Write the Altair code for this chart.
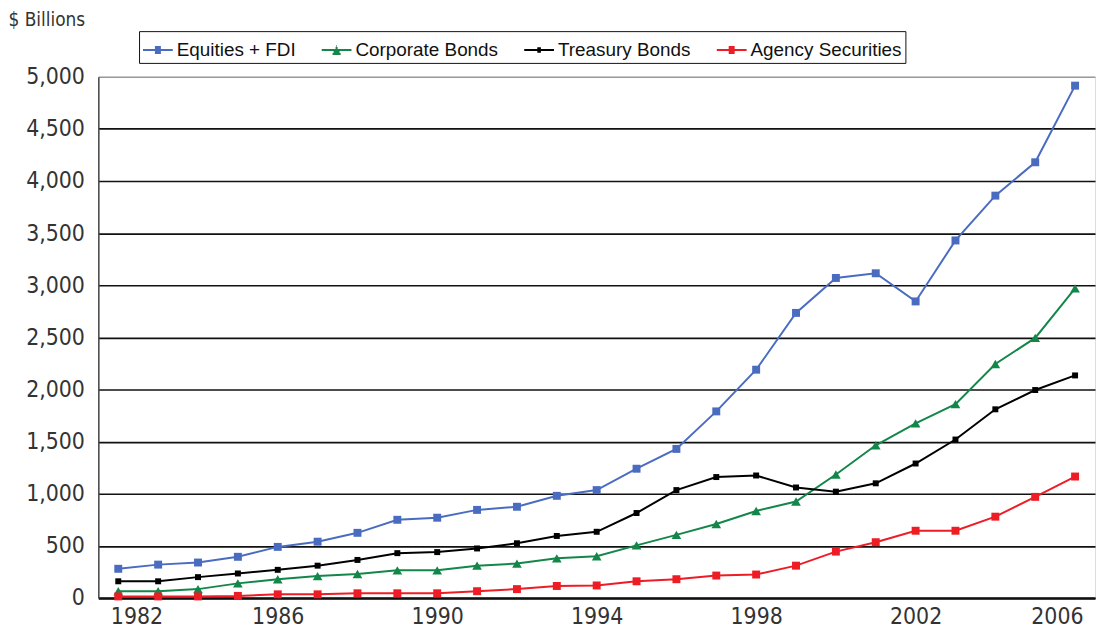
import altair as alt
import pandas as pd

years = list(range(1982, 2007))
series_names = ["Equities + FDI", "Corporate Bonds", "Treasury Bonds", "Agency Securities"]
series_colors = ["#4a6cc0", "#13874a", "#000000", "#ee1c25"]
series_shapes = ["square", "triangle-up", "square", "square"]
series_sizes = [64, 95, 36, 64]

equities = [280, 320, 340, 395, 490, 540, 625, 750, 770, 845, 875, 980, 1035,
            1240, 1430, 1790, 2190, 2735, 3070, 3115, 2845, 3430, 3860, 4180, 4915]
corporate = [65, 65, 85, 140, 180, 210, 230, 265, 265, 310, 330, 380, 400,
             505, 605, 710, 835, 925, 1185, 1465, 1675, 1860, 2245, 2495, 2970]
treasury = [160, 160, 200, 235, 270, 310, 365, 430, 440, 475, 525, 595, 635,
            815, 1035, 1160, 1175, 1060, 1020, 1100, 1290, 1520, 1810, 1995, 2135]
agency = [15, 15, 15, 20, 35, 35, 45, 45, 45, 65, 85, 115, 120,
          160, 180, 215, 225, 310, 445, 535, 645, 645, 780, 970, 1165]

x_ticks = [1982, 1986, 1990, 1994, 1998, 2002, 2006]
y_ticks = list(range(0, 5001, 500))

rows = []
for name, vals in zip(series_names, [equities, corporate, treasury, agency]):
    for yr, v in zip(years, vals):
        rows.append({"Year": yr, "Value": v, "Series": name})
df = pd.DataFrame(rows)

FONT = "DejaVu Sans Condensed"

def hsquare(h):
    n = 5
    parts = ["M-1,0H1"]
    for i in range(n):
        yy = -h + 2 * h * i / (n - 1)
        parts.append(f"M{-h:.3f},{yy:.3f}H{h:.3f}")
    return "".join(parts)

def htri(h):
    n = 5
    parts = ["M-1,0H1"]
    for i in range(n):
        t = i / (n - 1)
        yy = -h + 2 * h * t
        w = max(0.02, h * t)
        parts.append(f"M{-w:.3f},{yy:.3f}H{w:.3f}")
    return "".join(parts)

legend_paths = [hsquare(0.2), htri(0.27), hsquare(0.12), hsquare(0.2)]

x_enc = alt.X(
    "Year:Q",
    scale=alt.Scale(domain=[1981.5, 2006.5], nice=False, zero=False),
    axis=alt.Axis(
        values=x_ticks, format="d", title=None, grid=False, ticks=False,
        labelFontSize=23, labelFont=FONT, labelColor="#333333", labelPadding=8,
        labelFlush=25, labelFlushOffset=8,
        domainColor="#111111", domainWidth=2.5,
    ),
)
y_enc = alt.Y(
    "Value:Q",
    scale=alt.Scale(domain=[0, 5000], nice=False),
    axis=alt.Axis(
        values=y_ticks, format=",d", ticks=False,
        labelFontSize=23, labelFont=FONT, labelColor="#333333", labelPadding=14,
        domainColor="#444444", domainWidth=1.5,
        grid=True,
        gridColor={"condition": {"test": "datum.value === 5000", "value": "#999999"}, "value": "#111111"},
        gridWidth=1.6,
        title="$ Billions", titleAngle=0, titleAlign="left", titleBaseline="top",
        titleX=-91, titleY=-67, titleFont=FONT, titleFontSize=19,
        titleFontWeight="normal", titleColor="#333333",
    ),
)

# color scale: data-driven domain (ordered by sort) so it does not merge with the legend scales
color_scale = alt.Scale(range=series_colors)

lines = alt.Chart(df).mark_line(strokeWidth=2).encode(
    x=x_enc, y=y_enc,
    color=alt.Color("Series:N", scale=color_scale, sort=series_names, legend=None),
)

point_layers = []
for name, shp, sz in zip(series_names, series_shapes, series_sizes):
    point_layers.append(
        alt.Chart(df).transform_filter(alt.datum.Series == name)
        .mark_point(filled=True, opacity=1, shape=shp, size=sz)
        .encode(
            x=x_enc, y=y_enc,
            color=alt.Color("Series:N", scale=color_scale, sort=series_names, legend=None),
        )
    )

legend = alt.Legend(
    title=None, orient="none", legendX=41, legendY=-46,
    direction="horizontal", columns=4, columnPadding=22,
    labelFont="Liberation Sans", labelFontSize=19, labelColor="#111111",
    labelOffset=3, symbolSize=900, symbolStrokeWidth=2, symbolOpacity=1,
    strokeColor="#111111", fillColor="white", padding=3,
)

legend_src = alt.Chart(df).mark_point(size=0).encode(
    x=x_enc, y=y_enc,
    fill=alt.Fill("Series:N", scale=alt.Scale(domain=series_names, range=series_colors), legend=legend),
    stroke=alt.Stroke("Series:N", scale=alt.Scale(domain=series_names, range=series_colors), legend=legend),
    shape=alt.Shape("Series:N", scale=alt.Scale(domain=series_names, range=legend_paths), legend=legend),
)

chart = (
    alt.layer(lines, *point_layers, legend_src)
    .properties(
        width=1004, height=525,
        padding={"left": 91, "top": 67, "right": 2, "bottom": 36},
        autosize="none",
    )
    .configure_view(stroke="#999999", strokeWidth=1.5)
    .configure(background="white")
)

chart.save("out.html", embed_options={"renderer": "svg", "actions": False})
